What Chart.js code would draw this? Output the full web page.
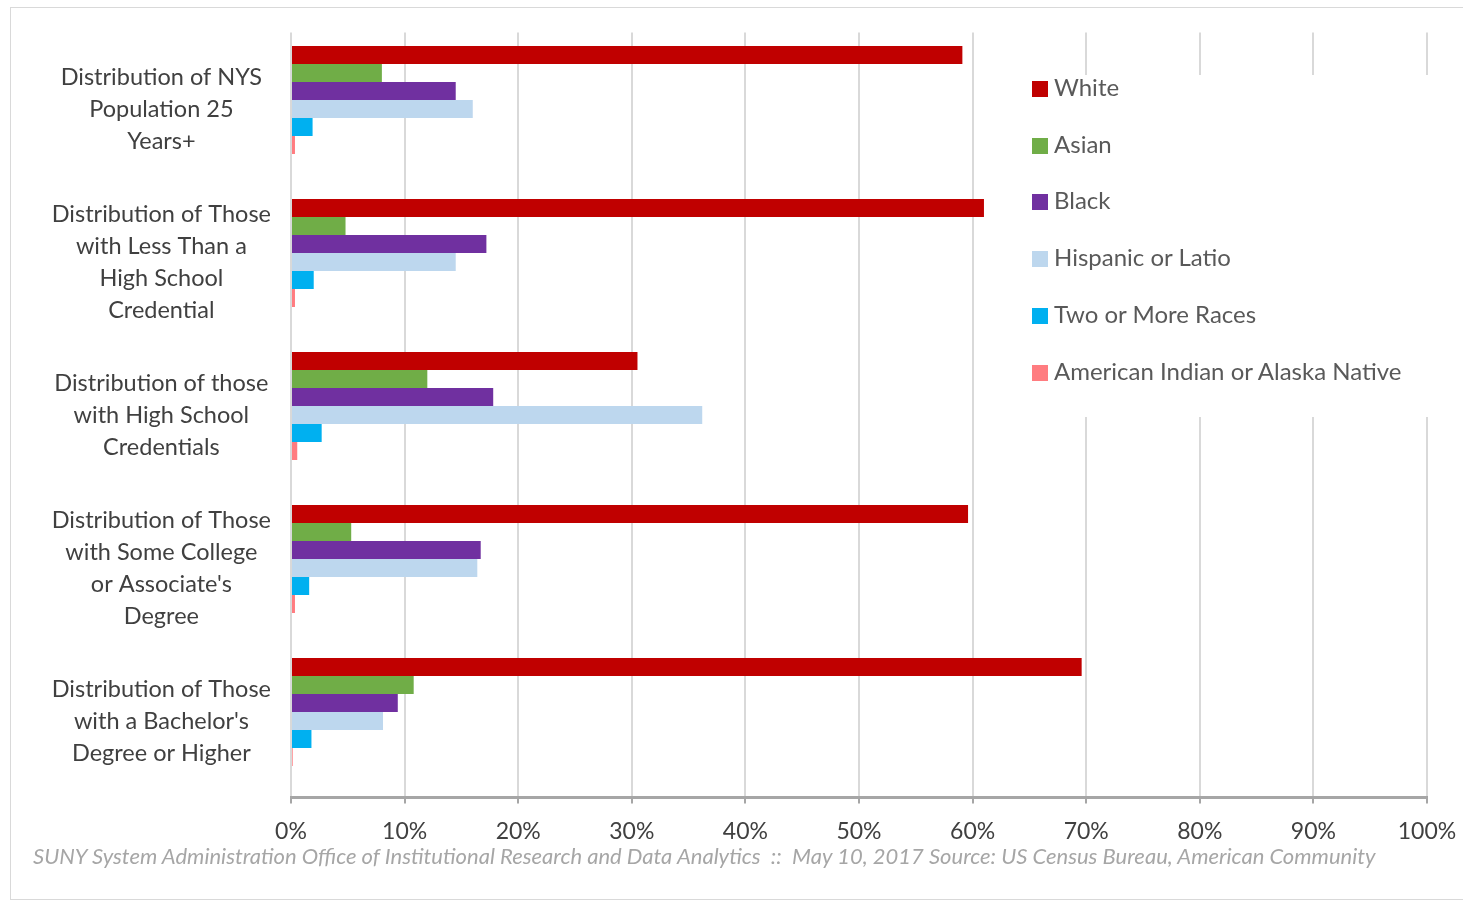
<!DOCTYPE html>
<html lang="en">
<head>
    <meta charset="UTF-8">
    <title>Distribution by race and education, NYS</title>
    <script src="https://cdn.jsdelivr.net/npm/chart.js"></script>
    <style>
        body { margin: 0; background: #fff; }
        #wrap { position: relative; width: 1463px; height: 903px; overflow: hidden; }
        #frame { position: absolute; left: 10px; top: 7px; width: 1470px; height: 891px; border: 1px solid #d9d9d9; pointer-events: none; }
        #legend { position: absolute; left: 1020px; top: 75px; width: 410px; height: 342px; background: #fff; font-family: Lato, sans-serif; font-size: 24px; color: #595959; }
        #legend div { position: absolute; left: 12px; height: 26px; line-height: 26px; white-space: nowrap; }
        #legend span { display: inline-block; width: 16px; height: 16px; margin-right: 6px; vertical-align: -1px; }
        #footer { position: absolute; left: 33px; top: 842px; font-family: Lato, sans-serif; font-style: italic; font-size: 22px; color: #a6a6a6; white-space: nowrap; }
    </style>
</head>
<body>
<div id="wrap">
    <canvas id="chart" width="1463" height="903"></canvas>
    <div id="legend"></div>
    <div id="footer">SUNY System Administration Office of Institutional Research and Data Analytics&nbsp; ::&nbsp; May 10, 2017 Source: US Census Bureau, American Community</div>
    <div id="frame"></div>
</div>
<script>
    // categories (multi-line labels, as in the original)
    const categories = [
        ['Distribution of NYS', 'Population 25', 'Years+'],
        ['Distribution of Those', 'with Less Than a', 'High School', 'Credential'],
        ['Distribution of those', 'with High School', 'Credentials'],
        ['Distribution of Those', 'with Some College', 'or Associate\'s', 'Degree'],
        ['Distribution of Those', 'with a Bachelor\'s', 'Degree or Higher']
    ];

    const seriesNames = ['White', 'Asian', 'Black', 'Hispanic or Latio', 'Two or More Races', 'American Indian or Alaska Native'];
    const seriesColors = ['#c00000', '#70ad47', '#7030a0', '#bdd7ee', '#00b0f0', '#ff7c80'];

    // values in percent
    const white    = [59.1, 61.0, 30.5, 59.6, 69.6];
    const asian    = [8.0, 4.8, 12.0, 5.3, 10.8];
    const black    = [14.5, 17.2, 17.8, 16.7, 9.4];
    const hispanic = [16.0, 14.5, 36.2, 16.4, 8.1];
    const twoMore  = [1.9, 2.0, 2.7, 1.6, 1.8];
    const amInd    = [0.35, 0.35, 0.55, 0.35, 0.15];
    const other    = [0, 0, 0, 0, 0]; // empty 7th slot in each group

    const xTicks = [0, 10, 20, 30, 40, 50, 60, 70, 80, 90, 100];

    const allValues = [white, asian, black, hispanic, twoMore, amInd];
    const datasets = allValues.map((vals, i) => ({
        label: seriesNames[i],
        data: vals,
        backgroundColor: seriesColors[i],
        borderWidth: 0,
        categoryPercentage: 0.823,
        barPercentage: 1.0
    }));
    datasets.push({ label: '', data: other, backgroundColor: '#bfbfbf', borderWidth: 0, categoryPercentage: 0.823, barPercentage: 1.0 });

    // html legend laid over the plot like the original
    const legendEl = document.getElementById('legend');
    const legendTops = [-1, 56, 112, 169, 226, 283];
    seriesNames.forEach((name, i) => {
        const d = document.createElement('div');
        d.style.top = legendTops[i] + 'px';
        d.innerHTML = '<span style="background:' + seriesColors[i] + '"></span>' + name;
        legendEl.appendChild(d);
    });

    const ctx = document.getElementById('chart').getContext('2d');
    const chart = new Chart(ctx, {
        type: 'bar',
        data: { labels: categories, datasets: datasets },
        options: {
            indexAxis: 'y',
            responsive: false,
            animation: false,
            layout: { padding: { left: 0, top: 32.5, right: 36, bottom: 0 } },
            plugins: {
                legend: { display: false },
                tooltip: { enabled: false }
            },
            scales: {
                x: {
                    min: 0,
                    max: 100,
                    afterBuildTicks: (scale) => { scale.ticks = xTicks.map(v => ({ value: v })); },
                    afterFit: (scale) => {
                        scale.height = 105.5;
                        scale.paddingLeft = 0;
                        scale.paddingRight = 0;
                    },
                    grid: { color: '#d9d9d9', lineWidth: 2, tickColor: '#a6a6a6', tickLength: 6, drawTicks: true },
                    border: { display: true, color: '#a6a6a6', width: 3 },
                    ticks: {
                        callback: (v) => v + '%',
                        color: '#404040',
                        padding: 14,
                        maxRotation: 0,
                        font: { family: 'Lato', size: 23 }
                    }
                },
                y: {
                    afterFit: (scale) => {
                        scale.width = 291;
                        scale.paddingTop = 0;
                        scale.paddingBottom = 0;
                    },
                    grid: { display: false, drawTicks: false },
                    border: { display: false },
                    ticks: {
                        crossAlign: 'center',
                        padding: 20,
                        color: '#404040',
                        font: { family: 'Lato', size: 23.5, lineHeight: 1.36 }
                    }
                }
            }
        }
    });
</script>
</body>
</html>
